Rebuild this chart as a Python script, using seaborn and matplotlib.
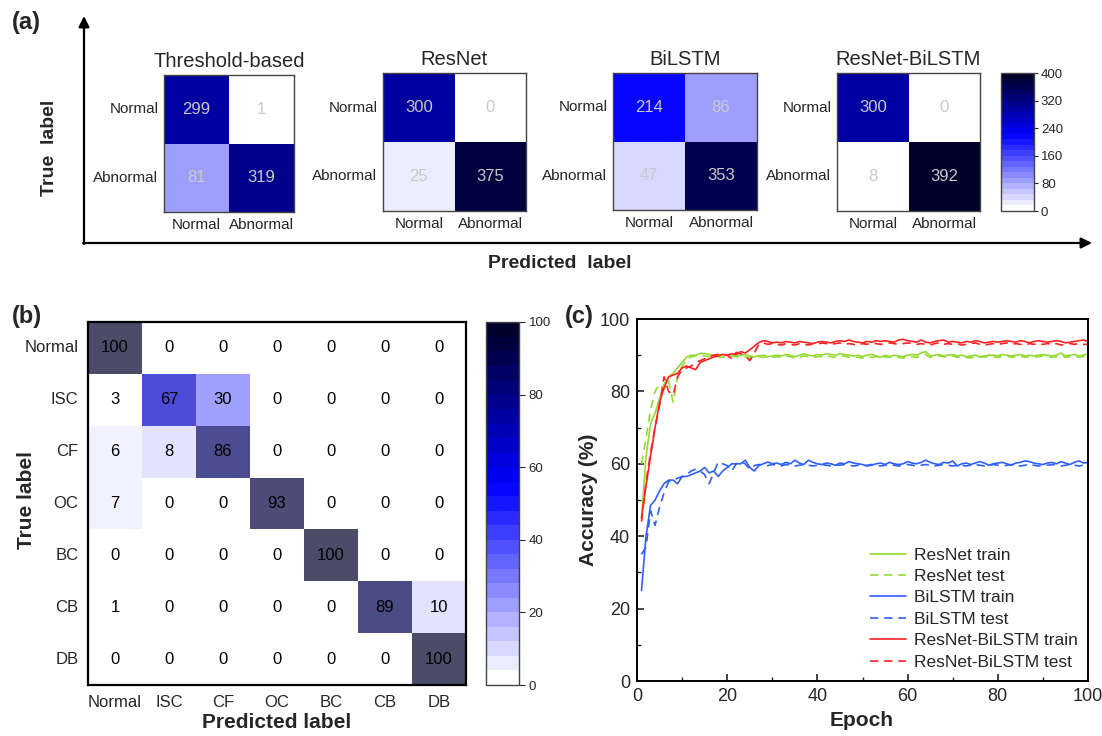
import numpy as np
import pandas as pd
import matplotlib
matplotlib.use("Agg")
import matplotlib.pyplot as plt
import seaborn as sns
from matplotlib.colors import LinearSegmentedColormap, Normalize
from matplotlib.cm import ScalarMappable
from matplotlib.ticker import MultipleLocator

sns.set_style("white")
plt.rcParams["font.family"] = ["Liberation Sans", "DejaVu Sans"]

# ---------------- data ----------------
binary_labels = ["Normal", "Abnormal"]
model_names = ["Threshold-based", "ResNet", "BiLSTM", "ResNet-BiLSTM"]
cm_threshold = [[299, 1], [81, 319]]
cm_resnet = [[300, 0], [25, 375]]
cm_bilstm = [[214, 86], [47, 353]]
cm_resnet_bilstm = [[300, 0], [8, 392]]

fault_labels = ["Normal", "ISC", "CF", "OC", "BC", "CB", "DB"]
cm_fault = [
    [100, 0, 0, 0, 0, 0, 0],
    [3, 67, 30, 0, 0, 0, 0],
    [6, 8, 86, 0, 0, 0, 0],
    [7, 0, 0, 93, 0, 0, 0],
    [0, 0, 0, 0, 100, 0, 0],
    [1, 0, 0, 0, 0, 89, 10],
    [0, 0, 0, 0, 0, 0, 100],
]

epochs = list(range(1, 101))
resnet_train = [45, 62, 71, 74, 78, 82, 84, 85, 86.5, 88, 89.5, 90, 90, 90.5, 90.5, 90.2, 90, 90, 90.2, 90,
                90, 89.8, 90, 90.2, 89.8, 89.5, 89.8, 90, 89.6, 89.8,
                90, 89.8, 90.2, 90, 89.6, 90, 90.4, 90, 89.8, 90.2, 90, 90.4, 90.2, 90, 90.4, 90.2, 90, 89.8, 90, 89.6,
                90, 90.2, 89.8, 89.4, 90, 89.6, 90, 89.8, 89.6, 90,
                90.2, 90, 90.6, 91, 89.8, 90, 90.2, 89.8, 90, 90.2, 89.8, 90, 89.6, 89.8, 90, 89.6, 89.8, 90, 90, 89.8,
                90.2, 90, 89.8, 90, 90.2, 89.8, 90, 89.8, 90, 90.2,
                90, 89.8, 90, 90.6, 89.8, 90, 90.2, 89.8, 90, 90.4]
resnet_test = [60, 67, 75, 80, 82, 80.5, 83, 77, 84, 87, 89, 89.5, 89.8, 90, 89.8, 89.6, 89.8, 89.6, 89.4, 89.6,
               89.8, 89.6, 89.4, 89.6, 89.2, 89.4, 89.6, 89.4, 89.6, 89.4,
               89.6, 89.4, 89.8, 89.6, 89.2, 89.4, 89.8, 89.6, 89.4, 89.6, 89.6, 89.8, 89.6, 89.4, 89.6, 89.8, 89.4, 89.6, 89.4, 89.2,
               89.6, 89.4, 89.6, 89.2, 89.6, 89.4, 89.6, 89.4, 89.2, 89.6,
               89.6, 89.4, 89.8, 90.2, 89.4, 89.6, 89.8, 89.6, 89.4, 89.8, 89.4, 89.6, 89.4, 89.2, 89.6, 89.4, 89.6, 89.4, 89.6, 89.4,
               89.6, 89.8, 89.4, 89.6, 89.8, 89.4, 89.6, 89.4, 89.6, 89.8,
               89.6, 89.4, 89.6, 90, 89.4, 89.6, 89.8, 89.4, 89.6, 89.6]
bilstm_train = [25, 40, 48.5, 50, 52.5, 54.5, 55.5, 55.5, 54.5, 56.5, 56.5, 57, 57.5, 58, 59, 57.5, 58, 56.5, 58, 59,
                60, 60, 60, 61, 59, 58, 59.5, 60, 60.5, 60,
                60.2, 59.8, 60.4, 60, 61, 60.2, 59.8, 61, 60.4, 60, 59.8, 60.2, 60, 59.6, 60.2, 60, 60.6, 60.2, 60, 59.8,
                59.4, 59.6, 60, 60.2, 59.8, 60.4, 60, 59.8, 60, 60.6,
                60.2, 60, 60.4, 61, 60.4, 60, 59.8, 60.4, 60.2, 60.8, 59.4, 60, 60.2, 59.8, 60.2, 60.6, 60.2, 59.6, 60, 60.2,
                60.4, 60, 59.6, 60.2, 60.4, 60.8, 60.6, 60.2, 60, 59.8,
                60.2, 60.4, 60, 60.6, 60.2, 59.8, 60.4, 60.8, 60.2, 60.4]
bilstm_test = [35, 37, 47, 43, 48, 52, 55, 55.5, 56, 56.5, 57, 58, 58.5, 58, 57, 54.5, 57.5, 60.5, 60, 59.5,
               58, 60, 60.5, 60, 58.5, 59.5, 59.8, 59.6, 59.5, 59.8,
               59.6, 59.4, 59.8, 59.6, 59.4, 59.6, 59.8, 59.6, 59.4, 59.6, 59.8, 59.6, 59.4, 59.6, 59.6, 59.8, 59.6, 59.4, 59.6, 59.4,
               59.6, 59.8, 59.6, 59.4, 59.6, 59.8, 59.6, 59.4, 59.6, 59.8,
               59.6, 59.4, 59.6, 59.8, 59.6, 59.4, 59.6, 59.8, 59.6, 59.4, 59.6, 59.6, 59.4, 59.6, 59.8, 59.6, 59.4, 59.6, 59.8, 59.6,
               59.4, 59.6, 59.8, 59.6, 59.4, 59.6, 59.8, 59.6, 59.4, 59.6,
               59.6, 59.8, 59.6, 59.4, 59.6, 59.8, 59.6, 59.4, 59.6, 59.6]
rb_train = [45, 54, 62, 70, 77, 81, 84, 84.5, 85, 86.5, 87, 86.5, 86, 88, 88.5, 89, 89.5, 89.8, 90.2, 90,
            90.4, 90.2, 91, 90.6, 91.5, 92.5, 93.5, 94, 93.8, 93.4,
            93.6, 93.4, 93.8, 93.6, 93.4, 93.8, 93.6, 93.4, 93.2, 93.6, 93.8, 93.6, 93.4, 93.8, 94, 93.8, 94.2, 93.8, 93.6, 93.4,
            93.8, 93.6, 94, 93.8, 94, 93.8, 93.6, 94.2, 94.4, 94,
            93.8, 93.6, 94.2, 93.6, 93.4, 93.8, 94, 94.2, 93.6, 93.8, 93.6, 93.4, 93.8, 93.6, 94, 93.8, 93.4, 93.6, 93.8, 93.6,
            93.8, 94, 93.8, 93.6, 94, 93.8, 93.4, 93.8, 94, 93.8,
            93.6, 93.8, 94, 93.8, 93.4, 93.6, 93.8, 94, 94.2, 93.8]
rb_test = [44, 55, 63, 70, 76, 84, 80, 79, 84, 86, 86.5, 87, 88, 88.5, 89, 89.5, 90, 90.2, 90.4, 90,
           89, 90.8, 90.4, 89.8, 88.5, 90.5, 93, 93.4, 93, 93.2,
           93, 92.8, 93.2, 93, 92.8, 93.2, 93, 92.8, 93.2, 93, 93.4, 93.2, 93, 93.2, 93.4, 93, 93.2, 93, 92.8, 93.2,
           93, 93.4, 93.2, 93, 93.2, 93.4, 93.2, 93, 93.2, 93.4,
           93.2, 93, 93.2, 93, 92.8, 93.2, 93.4, 93, 93.2, 93, 93.2, 92.8, 93, 93.2, 93.4, 93, 92.8, 93, 93.2, 93,
           93.2, 93.4, 93, 93.2, 93, 92.8, 93.2, 93, 93.2, 93,
           93.2, 93, 93.2, 92.8, 93, 93.2, 93, 93.2, 93, 93]

series_names = ["ResNet train", "ResNet test", "BiLSTM train", "BiLSTM test",
                "ResNet-BiLSTM train", "ResNet-BiLSTM test"]
series_values = [resnet_train, resnet_test, bilstm_train, bilstm_test, rb_train, rb_test]
series_colors = ["#94dc34", "#94dc34", "#2f5fff", "#2f5fff", "#ff2222", "#ff2222"]

# ---------------- layout helpers ----------------
W, H = 1102, 736
fig = plt.figure(figsize=(W / 100, H / 100), dpi=100)


def rect(x0, y0, x1, y1):
    return [x0 / W, 1 - y1 / H, (x1 - x0) / W, (y1 - y0) / H]


overlay = fig.add_axes([0, 0, 1, 1])
overlay.set_xlim(0, W)
overlay.set_ylim(H, 0)
overlay.axis("off")

cmap_base = LinearSegmentedColormap.from_list(
    "wbn", [(0.0, "#ffffff"), (0.55, "#0000ff"), (1.0, "#00002a")])
cmap_a = cmap_base.resampled(25)
cmap_b = cmap_base.resampled(25)

# ---------------- panel (a) ----------------
overlay.text(12, 22, "(a)", fontsize=17, fontweight="bold", va="center", ha="left")
overlay.annotate("", xy=(84, 16), xytext=(84, 244),
                 arrowprops=dict(arrowstyle="-|>", lw=1.6, color="black", mutation_scale=16,
                                 shrinkA=0, shrinkB=0))
overlay.annotate("", xy=(1092, 243), xytext=(83, 243),
                 arrowprops=dict(arrowstyle="-|>", lw=1.6, color="black", mutation_scale=16,
                                 shrinkA=0, shrinkB=0))
overlay.text(50, 148, "True  label", rotation=90, fontsize=14, fontweight="bold",
             va="center", ha="center")
overlay.text(560, 263, "Predicted  label", fontsize=14, fontweight="bold",
             va="center", ha="center")

boxes_a = [(164, 75, 294, 212), (383, 73, 526, 211), (613, 73, 757, 210), (837, 73, 980, 211)]
mats_a = [cm_threshold, cm_resnet, cm_bilstm, cm_resnet_bilstm]
for name, mat, box in zip(model_names, mats_a, boxes_a):
    ax = fig.add_axes(rect(*box))
    df = pd.DataFrame(mat, index=binary_labels, columns=binary_labels)
    sns.heatmap(df, ax=ax, cmap=cmap_a, vmin=0, vmax=400, cbar=False, annot=True, fmt="d",
                annot_kws=dict(color="#c9c9c9", fontsize=12))
    ax.set_title(name, fontsize=14.5, pad=6)
    ax.tick_params(axis="both", length=3, width=0.8, color="#444444", labelsize=11, pad=1)
    ax.set_yticklabels(binary_labels, rotation=0)
    ax.set_xticklabels(binary_labels, rotation=0)
    ax.set_xlabel("")
    ax.set_ylabel("")
    for s in ax.spines.values():
        s.set_visible(True)
        s.set_color("#444444")
        s.set_linewidth(1.0)

cax_a = fig.add_axes(rect(1001, 73, 1034, 211))
cb_a = fig.colorbar(ScalarMappable(norm=Normalize(0, 400), cmap=cmap_a), cax=cax_a,
                    ticks=[0, 80, 160, 240, 320, 400])
cb_a.ax.tick_params(labelsize=9.5, length=3, width=0.8, pad=2)
cb_a.outline.set_edgecolor("#444444")
cb_a.outline.set_linewidth(1.0)

# ---------------- panel (b) ----------------
overlay.text(12, 316, "(b)", fontsize=17, fontweight="bold", va="center", ha="left")
axb = fig.add_axes(rect(88, 322, 466, 685))
dfb = pd.DataFrame(cm_fault, index=fault_labels, columns=fault_labels)
sns.heatmap(dfb, ax=axb, cmap=cmap_b, vmin=0, vmax=100, cbar=False, annot=True, fmt="d",
            alpha=0.7, annot_kws=dict(color="black", fontsize=12))
axb.tick_params(axis="both", length=0, labelsize=12, pad=7)
axb.set_yticklabels(fault_labels, rotation=0)
axb.set_xticklabels(fault_labels, rotation=0)
axb.set_xlabel("")
axb.set_ylabel("")
for s in axb.spines.values():
    s.set_visible(True)
    s.set_color("black")
    s.set_linewidth(1.6)
overlay.text(27, 500, "True label", rotation=90, fontsize=15, fontweight="bold",
             va="center", ha="center")
overlay.text(277, 722, "Predicted label", fontsize=15, fontweight="bold",
             va="center", ha="center")

cax_b = fig.add_axes(rect(486, 322, 519, 685))
cb_b = fig.colorbar(ScalarMappable(norm=Normalize(0, 100), cmap=cmap_b), cax=cax_b,
                    ticks=[0, 20, 40, 60, 80, 100])
cb_b.ax.tick_params(labelsize=9.5, length=4, width=0.8, pad=3)
cb_b.outline.set_edgecolor("#444444")
cb_b.outline.set_linewidth(1.0)

# ---------------- panel (c) ----------------
overlay.text(565, 316, "(c)", fontsize=17, fontweight="bold", va="center", ha="left")
axc = fig.add_axes(rect(637, 319, 1088, 681))
for name, vals, col in zip(series_names, series_values, series_colors):
    d = pd.DataFrame({"Epoch": epochs, "Accuracy": vals})
    if "train" in name:
        sns.lineplot(data=d, x="Epoch", y="Accuracy", ax=axc, color=col, lw=1.2, label=name)
    else:
        sns.lineplot(data=d, x="Epoch", y="Accuracy", ax=axc, color=col, lw=1.2, label=name,
                     linestyle=(0, (5, 3.5)))
axc.set_xlim(0, 100)
axc.set_ylim(0, 100)
axc.xaxis.set_major_locator(MultipleLocator(20))
axc.yaxis.set_major_locator(MultipleLocator(20))
axc.xaxis.set_minor_locator(MultipleLocator(10))
axc.yaxis.set_minor_locator(MultipleLocator(10))
axc.tick_params(axis="both", which="major", direction="in", length=5, width=1.2,
                labelsize=13, bottom=True, left=True, top=False, right=False, pad=5)
axc.tick_params(axis="both", which="minor", direction="in", length=3, width=1.0,
                bottom=True, left=True, top=False, right=False)
axc.set_xlabel("")
axc.set_ylabel("")
overlay.text(862, 720, "Epoch", fontsize=15, fontweight="bold", va="center", ha="center")
overlay.text(589, 500, "Accuracy (%)", rotation=90, fontsize=15, fontweight="bold",
             va="center", ha="center")
for s in axc.spines.values():
    s.set_color("black")
    s.set_linewidth(1.4)
axc.legend(loc="upper left", bbox_to_anchor=(0.481, 0.412), frameon=False, fontsize=12.5,
           handlelength=2.1, labelspacing=0.36, handletextpad=0.45)

fig.savefig("out.png", dpi=100)
